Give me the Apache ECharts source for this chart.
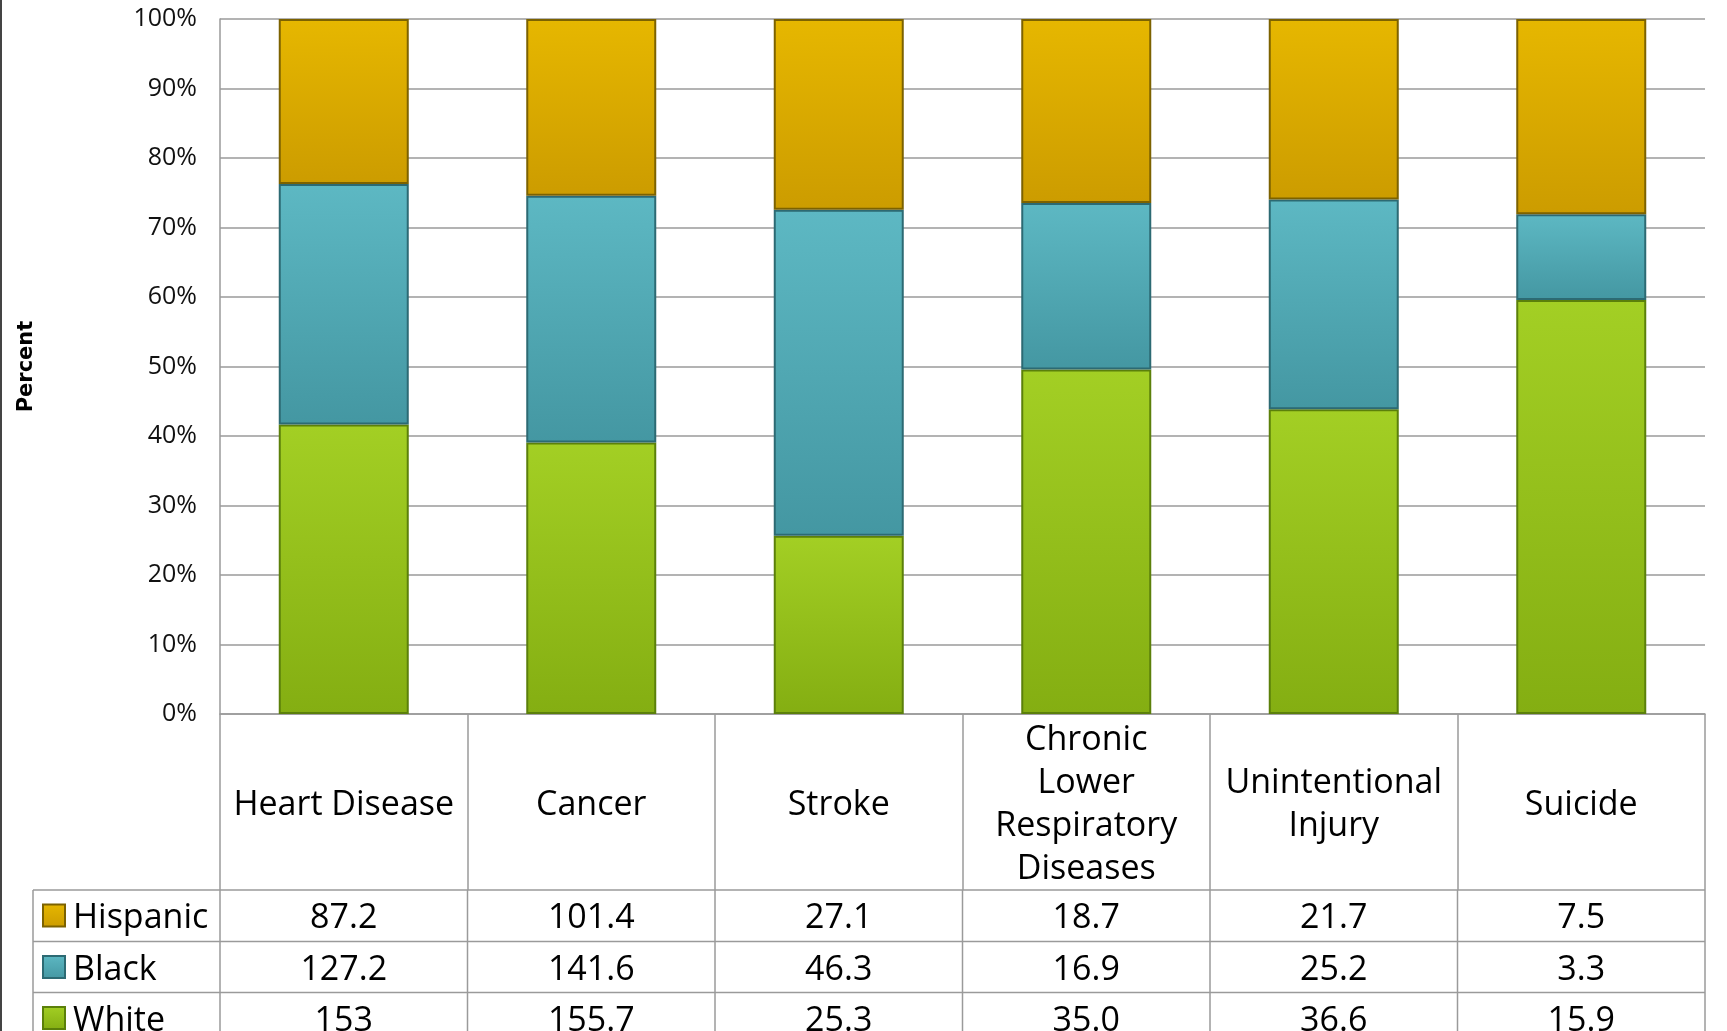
<!DOCTYPE html>
<html><head><meta charset="utf-8">
<script src="https://cdn.jsdelivr.net/npm/echarts@6/dist/echarts.min.js"></script>
<style>html,body{margin:0;padding:0;background:#fff}#c{width:1727px;height:1031px}</style>
</head><body><div id="c"></div>
<script>
const categories = ['Heart Disease','Cancer','Stroke','Chronic\nLower\nRespiratory\nDiseases','Unintentional\nInjury','Suicide'];
const seriesNames = ['Hispanic','Black','White'];
const hispanic = ['87.2','101.4','27.1','18.7','21.7','7.5'];
const black = ['127.2','141.6','46.3','16.9','25.2','3.3'];
const white = ['153','155.7','25.3','35.0','36.6','15.9'];

const rows = [hispanic, black, white];
const totals = categories.map((c,i)=>rows.reduce((s,r)=>s+parseFloat(r[i]),0));
const pct = arr => arr.map((v,i)=>parseFloat(v)/totals[i]*100);

const FONT = '"Open Sans", Lato, sans-serif';
const GRID = {left:220, right:22, top:19, bottom:317, containLabel:false, outerBoundsMode:'none'};
const colors = {
  Hispanic:{top:'#E6B700', bottom:'#CC9C00', border:'#7C6200'},
  Black:{top:'#5DB8C3', bottom:'#4497A2', border:'#2C6A73'},
  White:{top:'#A3CF24', bottom:'#84AE12', border:'#5B800A'}
};
function grad(c){
  return new echarts.graphic.LinearGradient(0,0,0,1,[{offset:0,color:c.top},{offset:1,color:c.bottom}]);
}
const chart = echarts.init(document.getElementById('c'), null, {renderer:'canvas'});
const seriesOrder = [['White', white], ['Black', black], ['Hispanic', hispanic]];
const gridColor = '#9A9A9A';
chart.setOption({
  animation:false,
  backgroundColor:'#fff',
  grid:GRID,
  xAxis:{
    type:'category', data:categories, boundaryGap:true,
    axisLine:{show:true, lineStyle:{color:gridColor, width:1.5}},
    axisTick:{show:true, interval:0, length:176, lineStyle:{color:gridColor, width:1.5}},
    axisLabel:{interval:0, margin:91, verticalAlign:'middle', fontFamily:FONT, fontSize:34, lineHeight:43, color:'#000', align:'center'}
  },
  yAxis:{
    type:'value', min:0, max:100, interval:10,
    name:'Percent', nameLocation:'middle', nameRotate:90, nameGap:183,
    nameTextStyle:{fontFamily:'"DejaVu Sans", Verdana, sans-serif', fontWeight:'bold', fontSize:21, color:'#000'},
    axisLine:{show:true, lineStyle:{color:gridColor, width:1.5}},
    axisTick:{show:false},
    axisLabel:{formatter:'{value}%', margin:23, fontFamily:FONT, fontSize:25, color:'#111'},
    splitLine:{show:true, lineStyle:{color:gridColor, width:1.5}}
  },
  series: seriesOrder.map(([name, arr])=>({
    name, type:'bar', stack:'total', barWidth:130,
    data:pct(arr),
    itemStyle:{color:grad(colors[name]), borderColor:colors[name].border, borderWidth:2}
  }))
});

// Data table below the axis
const c0 = chart.convertToPixel({xAxisIndex:0}, 0);
const c1 = chart.convertToPixel({xAxisIndex:0}, 1);
const colW = c1 - c0;
const left = c0 - colW/2;
const nCat = categories.length;
const right = left + colW*nCat;
const tableLeft = 33;
const rowTops = [890, 941.5, 992.5];
const rowH = 51;
const g = [];
const line = (x1,y1,x2,y2,color,w)=>g.push({type:'line', silent:true, shape:{x1,y1,x2,y2}, style:{stroke:color||gridColor, lineWidth:w||1.5}, z:10});
// frame left border
line(1,0,1,1031,'#444',2);
rowTops.forEach(y=>line(tableLeft,y,right,y));
line(tableLeft, rowTops[0], tableLeft, 1031);
for(let k=0;k<=nCat;k++){ const x=left+k*colW; line(x, rowTops[0], x, 1031); }
seriesNames.forEach((name, r)=>{
  const cy = rowTops[r] + rowH/2;
  const c = colors[name];
  g.push({type:'rect', silent:true, shape:{x:43, y:cy-11, width:22, height:22},
    style:{fill:grad(c), stroke:c.border, lineWidth:2}, z:10});
  g.push({type:'text', silent:true, x:73, y:cy+3, style:{text:name, fontFamily:FONT, fontSize:34, fill:'#000',
    textAlign:'left', textVerticalAlign:'middle', align:'left', verticalAlign:'middle'}, z:10});
  rows[r].forEach((v,i)=>{
    const cx = chart.convertToPixel({xAxisIndex:0}, i);
    g.push({type:'text', silent:true, x:cx, y:cy+3, style:{text:v, fontFamily:FONT, fontSize:34, fill:'#000',
      textAlign:'center', textVerticalAlign:'middle', align:'center', verticalAlign:'middle'}, z:10});
  });
});
chart.setOption({graphic:{elements:g}});
</script>
</body></html>
